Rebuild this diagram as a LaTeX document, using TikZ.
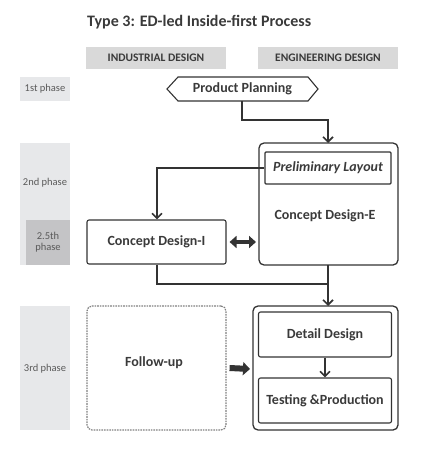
\documentclass[tikz,border=0pt]{standalone}
\usepackage{fontspec}
\setmainfont{Carlito}
\usetikzlibrary{arrows.meta,shapes.misc,calc}
\definecolor{txt}{HTML}{3A3A3A}
\definecolor{hdr}{HTML}{D9D9D9}
\definecolor{phs}{HTML}{E7E8EA}
\definecolor{phsd}{HTML}{C4C4C6}
\definecolor{phtxt}{HTML}{5A5A5A}
\definecolor{edge}{HTML}{333333}
\tikzset{
  hdrtxt/.style={text=txt, font=\fontsize{11.5}{12}\selectfont\bfseries, inner sep=0pt},
  hdrbox/.style={fill=hdr, draw=none},
  phasebox/.style={fill=phs, draw=none},
  phaselbl/.style={text=phtxt, font=\fontsize{10.5}{11}\selectfont, align=center, inner sep=0pt},
  nodetxt/.style={text=txt, font=\fontsize{14}{15}\selectfont\bfseries, inner sep=0pt},
  proc/.style={draw=edge, line width=1.1pt, rounded corners=2pt, nodetxt},
  outer/.style={draw=edge, line width=1.3pt, rounded corners=5pt},
  conn/.style={draw=edge, line width=1.8pt, -{Straight Barb[length=5pt,width=10pt,line width=1.6pt]}},
}
\begin{document}
\begin{tikzpicture}[x=1pt,y=-1pt]
\useasboundingbox (0,0) rectangle (422,457);
% title
\node[anchor=west, text=txt, font=\fontsize{16}{17}\selectfont\bfseries, inner sep=0pt] (title) at (87,22) {Type 3: ED-led Inside-first Process};
% headers
\path[hdrbox] (86,47) rectangle (226,69);
\node[hdrtxt] (hid) at (156,58) {INDUSTRIAL DESIGN};
\path[hdrbox] (258,47) rectangle (398,69);
\node[hdrtxt] (hed) at (328,58) {ENGINEERING DESIGN};
% phase labels
\path[phasebox] (20,77) rectangle (70,101);
\node[phaselbl] (p1) at (45,89) {1st phase};
\path[phasebox] (20,143) rectangle (70,265);
\path[fill=phsd] (26,220) rectangle (70,265);
\node[phaselbl] (p2) at (45,183) {2nd phase};
\node[phaselbl, font=\fontsize{10.5}{11}\selectfont] (p25) at (48,242.5) {2.5th\\phase};
\path[phasebox] (20,306) rectangle (70,430);
\node[phaselbl] (p3) at (45,369) {3rd phase};
% product planning hexagon
\draw[edge, line width=1.1pt] (167,89) -- (178,77) -- (308,77) -- (318,89) -- (308,101) -- (178,101) -- cycle;
\node[nodetxt] (pp) at (242.5,89) {Product Planning};
\coordinate (ppb) at (242,101);
% concept design E
\draw[outer] (259,143) rectangle (398,265);
\coordinate (cdetop) at (328,143);
\coordinate (cdebot) at (328,265);
\node[proc, rounded corners=1pt, minimum width=126pt, minimum height=32pt, font=\fontsize{14}{15}\selectfont\bfseries\itshape] (pl) at (328,168) {Preliminary Layout};
\node[nodetxt] (cde) at (325,216) {Concept Design-E};
% concept design I
\node[proc, minimum width=139pt, minimum height=44pt] (cdi) at (156.5,242) {Concept Design-I};
% follow-up
\node[draw=gray, line width=1.2pt, dash pattern=on 1.6pt off 1pt, rounded corners=5pt, minimum width=139pt, minimum height=124pt, inner sep=0pt] (fu) at (156.5,368) {};
\node[nodetxt] (fut) at (154,363) {Follow-up};
% 3rd phase right
\draw[outer] (253,306) rectangle (398,430);
\coordinate (r3top) at (328,306);
\coordinate (r3left) at (253,369);
\node[proc, minimum width=133pt, minimum height=45pt] (dd) at (325,334.5) {Detail Design};
\node[proc, minimum width=133pt, minimum height=45pt] (tp) at (325,400.5) {Testing \&Production};
% connectors
\draw[conn] (ppb) -- (242,120) -- (328,120) -- (cdetop);
\draw[conn] (pl.west) -- (157,168) -- (cdi.north -| 157,0);
\draw[draw=edge, line width=1.8pt] (cdi.south -| 157,0) -- (157,284) -- (328,284);
\draw[conn] (cdebot) -- (r3top);
\draw[conn] (dd.south) -- (tp.north);
% double arrow
\draw[draw=edge, line width=4pt, {Triangle[length=7pt,width=12pt]}-{Triangle[length=7pt,width=12pt]}] (cdi.east) ++(3,0) -- ($(259,242)+(-3,0)$);
% thick arrow
\draw[draw=edge, line width=6pt, -{Triangle[length=7pt,width=13pt]}] (fu.east) ++(3,0) -- ($(r3left)+(-3,0)$);
\end{tikzpicture}
\end{document}
